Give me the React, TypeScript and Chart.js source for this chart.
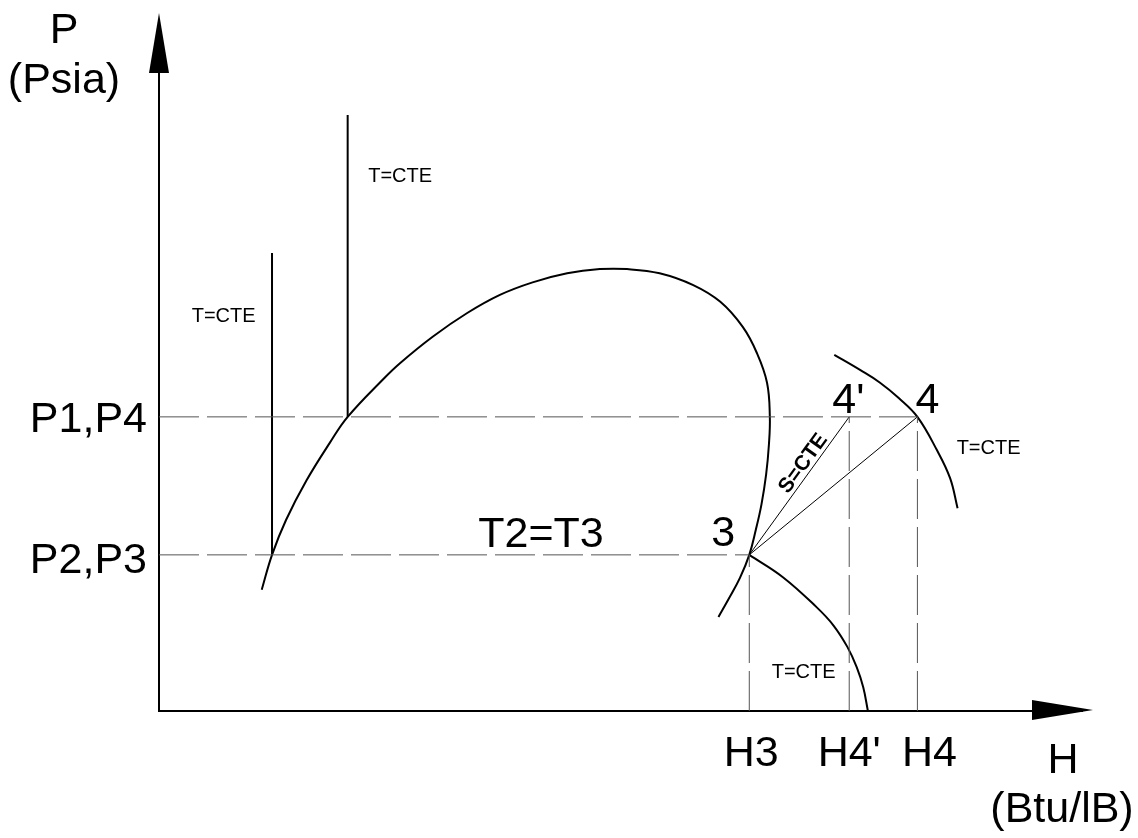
import React, { useEffect, useRef } from "react";
import { Chart, registerables } from "chart.js";

Chart.register(...registerables);

// State points (H in Btu/lB, P in Psia, schematic units)
const P_HIGH = 42.2; // P1 = P4
const P_LOW = 22.4; // P2 = P3
const H3 = 63.2;
const H4S = 73.9; // H4'
const H4 = 81.2;

// Saturation dome, traced from the liquid side over the top to the vapour side
const domeH = [11.0, 12.1, 13.6, 15.8, 18.3, 20.2, 24.0, 25.8, 29.3, 33.0, 36.5, 40.0, 43.7, 47.2, 50.1, 53.6, 57.2, 60.1, 62.5, 64.0, 65.1, 65.4, 65.3, 65.0, 64.5, 63.9, 63.2, 62.2, 61.0, 59.9];
const domeP = [17.4, 22.4, 27.4, 33.1, 38.5, 42.2, 47.6, 49.9, 53.7, 57.1, 59.7, 61.5, 62.8, 63.4, 63.4, 62.8, 61.1, 58.7, 55.1, 51.4, 47.1, 42.2, 38.2, 33.9, 29.6, 26.0, 22.4, 19.1, 16.1, 13.5];

// Isotherms in the liquid region (vertical)
const isoLowH = [12.1, 12.1];
const isoLowP = [22.4, 65.7];
const isoHighH = [20.2, 20.2];
const isoHighP = [42.2, 85.5];

// Superheated isotherm through point 4
const superH = [72.3, 75.1, 77.2, 79.2, 81.2, 83.3, 84.7, 85.5];
const superP = [51.1, 48.9, 47.1, 44.9, 42.2, 37.4, 33.4, 29.1];

// Isotherm leaving point 3 toward low pressure
const lowIsoH = [63.2, 66.8, 70.4, 72.2, 73.7, 74.7, 75.4, 75.9];
const lowIsoP = [22.4, 19.2, 14.9, 12.3, 9.2, 6.3, 3.4, 0.0];

const H_TICKS = ["H3", "H4'", "H4"];
const H_TICK_VALUES = [H3, H4S, H4];

const pts = (xs: number[], ys: number[]) => xs.map((x, i) => ({ x, y: ys[i] }));

const FONT = '"Liberation Sans", Arial, sans-serif';

const diagramPlugin = {
  id: "phDiagram",
  beforeDatasetsDraw(chart: any) {
    const { ctx, chartArea } = chart;
    const { left, right, top, bottom } = chartArea;
    ctx.save();
    ctx.strokeStyle = "#000";
    ctx.fillStyle = "#000";
    ctx.lineWidth = 2;
    // axes
    ctx.beginPath();
    ctx.moveTo(left, top + 10);
    ctx.lineTo(left, bottom);
    ctx.lineTo(right - 10, bottom);
    ctx.stroke();
    // arrowheads
    ctx.beginPath();
    ctx.moveTo(left, top - 1);
    ctx.lineTo(left - 10, top + 59);
    ctx.lineTo(left + 10, top + 59);
    ctx.closePath();
    ctx.fill();
    ctx.beginPath();
    ctx.moveTo(right, bottom - 1);
    ctx.lineTo(right - 61, bottom - 11);
    ctx.lineTo(right - 61, bottom + 9);
    ctx.closePath();
    ctx.fill();
    ctx.restore();
  },
  afterDatasetsDraw(chart: any) {
    const { ctx, chartArea, scales } = chart;
    const xs = scales.x;
    const ys = scales.y;
    const px = (v: number) => xs.getPixelForValue(v);
    const py = (v: number) => ys.getPixelForValue(v);
    const { left, bottom, right } = chartArea;

    ctx.save();
    ctx.fillStyle = "#000";
    ctx.textBaseline = "alphabetic";

    const big = `43px ${FONT}`;
    const small = `20px ${FONT}`;

    // axis titles
    ctx.font = big;
    ctx.textAlign = "center";
    ctx.fillText("P", left - 95, 43);
    ctx.fillText("(Psia)", left - 95, 93);
    ctx.fillText("H", right - 30, bottom + 62);
    ctx.fillText("(Btu/lB)", right - 31, bottom + 111);

    // pressure levels
    ctx.textAlign = "right";
    ctx.fillText("P1,P4", left - 12, py(P_HIGH) + 15);
    ctx.fillText("P2,P3", left - 12, py(P_LOW) + 18);

    // enthalpy levels
    ctx.textAlign = "center";
    H_TICKS.forEach((t, i) => {
      const off = i === 2 ? 12 : i === 0 ? 2 : 0;
      ctx.fillText(t, px(H_TICK_VALUES[i]) + off, bottom + 55);
    });

    // state point numbers
    ctx.textAlign = "center";
    ctx.fillText("3", px(H3) - 26, py(P_LOW) - 9);
    ctx.fillText("T2=T3", px(40.9), py(P_LOW) - 8);
    ctx.textAlign = "left";
    ctx.fillText("4'", px(H4S) - 17, py(P_HIGH) - 4);
    ctx.fillText("4", px(H4) - 2, py(P_HIGH) - 4);

    // isotherm labels
    ctx.font = small;
    ctx.fillText("T=CTE", px(22.4), py(75.9));
    ctx.fillText("T=CTE", px(3.5), py(55.8));
    ctx.fillText("T=CTE", px(85.4), py(36.9));
    ctx.fillText("T=CTE", px(65.6), py(4.7));

    // isentrope label along 3 -> 4'
    const x0 = px(H3), y0 = py(P_LOW);
    const x1 = px(H4S), y1 = py(P_HIGH);
    const ang = Math.atan2(y1 - y0, x1 - x0);
    const t = 0.62;
    ctx.translate(x0 + (x1 - x0) * t, y0 + (y1 - y0) * t);
    ctx.rotate(ang);
    ctx.font = `bold 21px ${FONT}`;
    ctx.textAlign = "center";
    ctx.fillText("S=CTE", 0, -4);
    ctx.restore();
  },
};

export default function App() {
  const ref = useRef<HTMLCanvasElement | null>(null);

  useEffect(() => {
    if (!ref.current) return;
    const dash = { borderColor: "#555", borderWidth: 1, borderDash: [40, 8], tension: 0 };
    const solid = { borderColor: "#000", borderWidth: 2 };
    const chart = new Chart(ref.current, {
      type: "scatter",
      data: {
        datasets: [
          { data: pts([0, H4], [P_HIGH, P_HIGH]), ...dash },
          { data: pts([0, H3], [P_LOW, P_LOW]), ...dash },
          { data: pts([H3, H3], [0, P_LOW]), ...dash },
          { data: pts([H4S, H4S], [0, P_HIGH]), ...dash },
          { data: pts([H4, H4], [0, P_HIGH]), ...dash },
          { data: pts(domeH, domeP), ...solid, tension: 0.4 },
          { data: pts(isoLowH, isoLowP), ...solid, tension: 0 },
          { data: pts(isoHighH, isoHighP), ...solid, tension: 0 },
          { data: pts(superH, superP), ...solid, tension: 0.4 },
          { data: pts(lowIsoH, lowIsoP), ...solid, tension: 0.4 },
          { data: pts([H3, H4S], [P_LOW, P_HIGH]), borderColor: "#000", borderWidth: 1, tension: 0 },
          { data: pts([H3, H4], [P_LOW, P_HIGH]), borderColor: "#000", borderWidth: 1, tension: 0 },
        ].map((d) => ({ ...d, showLine: true, pointRadius: 0, fill: false, clip: false })) as any,
      },
      options: {
        responsive: false,
        maintainAspectRatio: false,
        devicePixelRatio: 1,
        animation: false,
        events: [],
        layout: { padding: { left: 159, right: 45, top: 14, bottom: 127 } },
        plugins: { legend: { display: false }, tooltip: { enabled: false } },
        scales: {
          x: { type: "linear", min: 0, max: 100, display: false },
          y: { type: "linear", min: 0, max: 100, display: false },
        },
      },
      plugins: [diagramPlugin],
    });
    return () => chart.destroy();
  }, []);

  return (
    <div style={{ position: "absolute", left: 0, top: 0, width: 1138, height: 838, background: "#fff" }}>
      <canvas ref={ref} width={1138} height={838} style={{ display: "block" }} />
    </div>
  );
}
